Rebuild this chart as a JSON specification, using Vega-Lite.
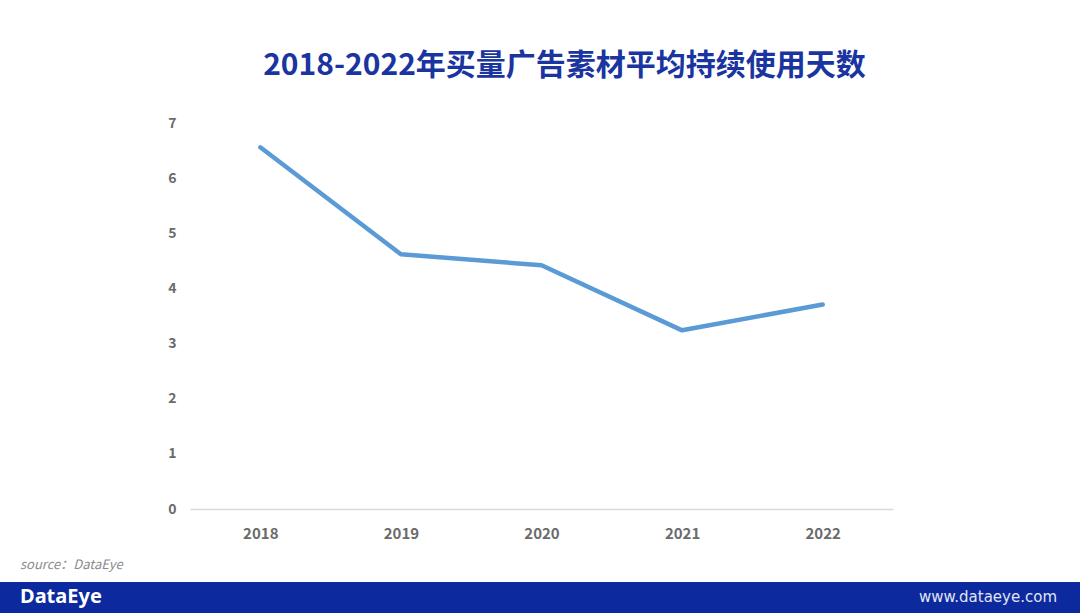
{
  "$schema": "https://vega.github.io/schema/vega-lite/v6.json",
  "autosize": {"type": "none"},
  "width": 703,
  "height": 386,
  "padding": {"left": 190, "top": 123, "right": 187, "bottom": 104},
  "background": "white",
  "config": {"view": {"stroke": null}, "font": "Noto Sans CJK SC"},
  "title": {
    "text": "2018-2022年买量广告素材平均持续使用天数",
    "anchor": "middle",
    "frame": "group",
    "dx": 23,
    "offset": 35,
    "fontSize": 30,
    "fontWeight": "bold",
    "color": "#1a35a0",
    "font": "Noto Sans CJK SC"
  },
  "layer": [
    {
      "data": {"values": [
        {"year": "2018", "days": 6.56},
        {"year": "2019", "days": 4.62},
        {"year": "2020", "days": 4.42},
        {"year": "2021", "days": 3.24},
        {"year": "2022", "days": 3.71}
      ]},
      "mark": {"type": "line", "color": "#5b9bd5", "strokeWidth": 4.5, "strokeCap": "round", "strokeJoin": "round"},
      "encoding": {
        "x": {
          "field": "year", "type": "ordinal",
          "scale": {"type": "point", "padding": 0.5},
          "axis": {
            "title": null, "labelAngle": 0, "ticks": false,
            "domainColor": "#d9d9d9", "domainWidth": 1.5,
            "labelColor": "#6b6b6b", "labelFontSize": 15, "labelFontWeight": "bold",
            "labelPadding": 17, "grid": false
          }
        },
        "y": {
          "field": "days", "type": "quantitative",
          "scale": {"domain": [0, 7], "nice": false},
          "axis": {
            "title": null, "values": [0,1,2,3,4,5,6,7], "domain": false, "ticks": false, "grid": false,
            "labelColor": "#6b6b6b", "labelFontSize": 14, "labelFontWeight": "bold", "labelPadding": 14
          }
        }
      }
    },
    {
      "data": {"values": [{"label": "footer"}]},
      "mark": {"type": "rect", "color": "#0c2a9e"},
      "encoding": {
        "x": {"value": -190}, "x2": {"value": 890},
        "y": {"value": 459}, "y2": {"value": 490}
      }
    },
    {
      "data": {"values": [{"label": "source：DataEye"}]},
      "mark": {"type": "text", "align": "left", "baseline": "middle", "fontSize": 13, "fontStyle": "italic", "color": "#8c8c8c", "font": "Noto Sans CJK SC"},
      "encoding": {"text": {"field": "label"}, "x": {"value": -170}, "y": {"value": 442}}
    },
    {
      "data": {"values": [{"label": "DataEye"}]},
      "mark": {"type": "text", "align": "left", "baseline": "middle", "fontSize": 20, "fontWeight": "bold", "color": "white", "font": "Noto Sans"},
      "encoding": {"text": {"field": "label"}, "x": {"value": -170}, "y": {"value": 474}}
    },
    {
      "data": {"values": [{"label": "www.dataeye.com"}]},
      "mark": {"type": "text", "align": "right", "baseline": "middle", "fontSize": 15, "color": "#e0e4f4", "font": "DejaVu Sans"},
      "encoding": {"text": {"field": "label"}, "x": {"value": 867}, "y": {"value": 474}}
    }
  ]
}
